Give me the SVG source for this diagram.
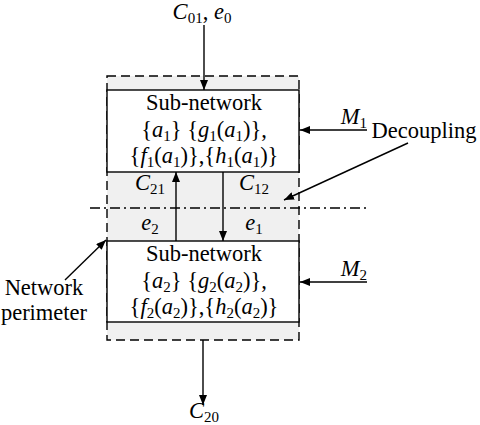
<svg xmlns="http://www.w3.org/2000/svg" width="480" height="425" viewBox="0 0 480 425">
<style>
text{font-family:"Liberation Serif","Times New Roman",serif;font-size:22.5px;fill:#000}
.i{font-style:italic}
.s{font-size:15px}
.ln{stroke:#000;stroke-width:1.4;fill:none}
</style>
<defs>
<marker id="ah" viewBox="0 0 10 8" refX="10" refY="4" markerWidth="10" markerHeight="8" markerUnits="userSpaceOnUse" orient="auto">
<path d="M0,0 L10,4 L0,8 Z" fill="#000"/>
</marker>
</defs>
<g id="perimeter">
<rect x="107" y="76" width="192" height="264" fill="#f0f0f0" stroke="#000" stroke-width="1.4" stroke-dasharray="9 5"/>
</g>
<g id="subnet1">
<rect x="107" y="90" width="192" height="82" fill="#fff" stroke="#000" stroke-width="1.4"/>
<text x="204" y="110" text-anchor="middle">Sub-network</text>
<text x="204" y="137" text-anchor="middle">{<tspan class="i">a</tspan><tspan class="s" dy="4">1</tspan><tspan dy="-4">} {</tspan><tspan class="i">g</tspan><tspan class="s" dy="4">1</tspan><tspan dy="-4">(</tspan><tspan class="i">a</tspan><tspan class="s" dy="4">1</tspan><tspan dy="-4">)},</tspan></text>
<text x="204" y="163" text-anchor="middle">{<tspan class="i">f</tspan><tspan class="s" dy="4">1</tspan><tspan dy="-4">(</tspan><tspan class="i">a</tspan><tspan class="s" dy="4">1</tspan><tspan dy="-4">)},{</tspan><tspan class="i">h</tspan><tspan class="s" dy="4">1</tspan><tspan dy="-4">(</tspan><tspan class="i">a</tspan><tspan class="s" dy="4">1</tspan><tspan dy="-4">)}</tspan></text>
</g>
<g id="subnet2">
<rect x="107" y="241" width="192" height="81" fill="#fff" stroke="#000" stroke-width="1.4"/>
<text x="204" y="261" text-anchor="middle">Sub-network</text>
<text x="204" y="288" text-anchor="middle">{<tspan class="i">a</tspan><tspan class="s" dy="4">2</tspan><tspan dy="-4">} {</tspan><tspan class="i">g</tspan><tspan class="s" dy="4">2</tspan><tspan dy="-4">(</tspan><tspan class="i">a</tspan><tspan class="s" dy="4">2</tspan><tspan dy="-4">)},</tspan></text>
<text x="204" y="314" text-anchor="middle">{<tspan class="i">f</tspan><tspan class="s" dy="4">2</tspan><tspan dy="-4">(</tspan><tspan class="i">a</tspan><tspan class="s" dy="4">2</tspan><tspan dy="-4">)},{</tspan><tspan class="i">h</tspan><tspan class="s" dy="4">2</tspan><tspan dy="-4">(</tspan><tspan class="i">a</tspan><tspan class="s" dy="4">2</tspan><tspan dy="-4">)}</tspan></text>
</g>
<g id="labels">
<text x="202" y="19" text-anchor="middle"><tspan class="i">C</tspan><tspan class="s" dy="4">01</tspan><tspan dy="-4">, </tspan><tspan class="i">e</tspan><tspan class="s" dy="4">0</tspan></text>
<text x="204" y="418" text-anchor="middle"><tspan class="i">C</tspan><tspan class="s" dy="4">20</tspan></text>
<text x="150" y="190" text-anchor="middle"><tspan class="i">C</tspan><tspan class="s" dy="4">21</tspan></text>
<text x="254" y="190" text-anchor="middle"><tspan class="i">C</tspan><tspan class="s" dy="4">12</tspan></text>
<text x="150" y="230" text-anchor="middle"><tspan class="i">e</tspan><tspan class="s" dy="4">2</tspan></text>
<text x="254" y="230" text-anchor="middle"><tspan class="i">e</tspan><tspan class="s" dy="4">1</tspan></text>
<text x="367" y="124" text-anchor="end"><tspan class="i">M</tspan><tspan class="s" dy="4">1</tspan></text>
<text x="367" y="276" text-anchor="end"><tspan class="i">M</tspan><tspan class="s" dy="4">2</tspan></text>
<text x="424" y="138" text-anchor="middle">Decoupling</text>
<text x="44" y="295" text-anchor="middle">Network</text>
<text x="44" y="320" text-anchor="middle">perimeter</text>
</g>
<g id="connectors">
<line class="ln" x1="90" y1="208" x2="368" y2="208" stroke-dasharray="10 4 2 4"/>
<line class="ln" x1="223" y1="172" x2="223" y2="241" marker-end="url(#ah)"/>
<line class="ln" x1="176" y1="241" x2="176" y2="172" marker-end="url(#ah)"/>
<line class="ln" x1="204" y1="25" x2="204" y2="90" marker-end="url(#ah)"/>
<line class="ln" x1="203" y1="340" x2="203" y2="405" marker-end="url(#ah)"/>
<line class="ln" x1="367" y1="130" x2="300" y2="130" marker-end="url(#ah)"/>
<line class="ln" x1="367" y1="282" x2="300" y2="282" marker-end="url(#ah)"/>
<line class="ln" x1="408" y1="143" x2="284" y2="200" marker-end="url(#ah)"/>
<line class="ln" x1="65" y1="280" x2="106" y2="240" marker-end="url(#ah)"/>
</g>
</svg>
